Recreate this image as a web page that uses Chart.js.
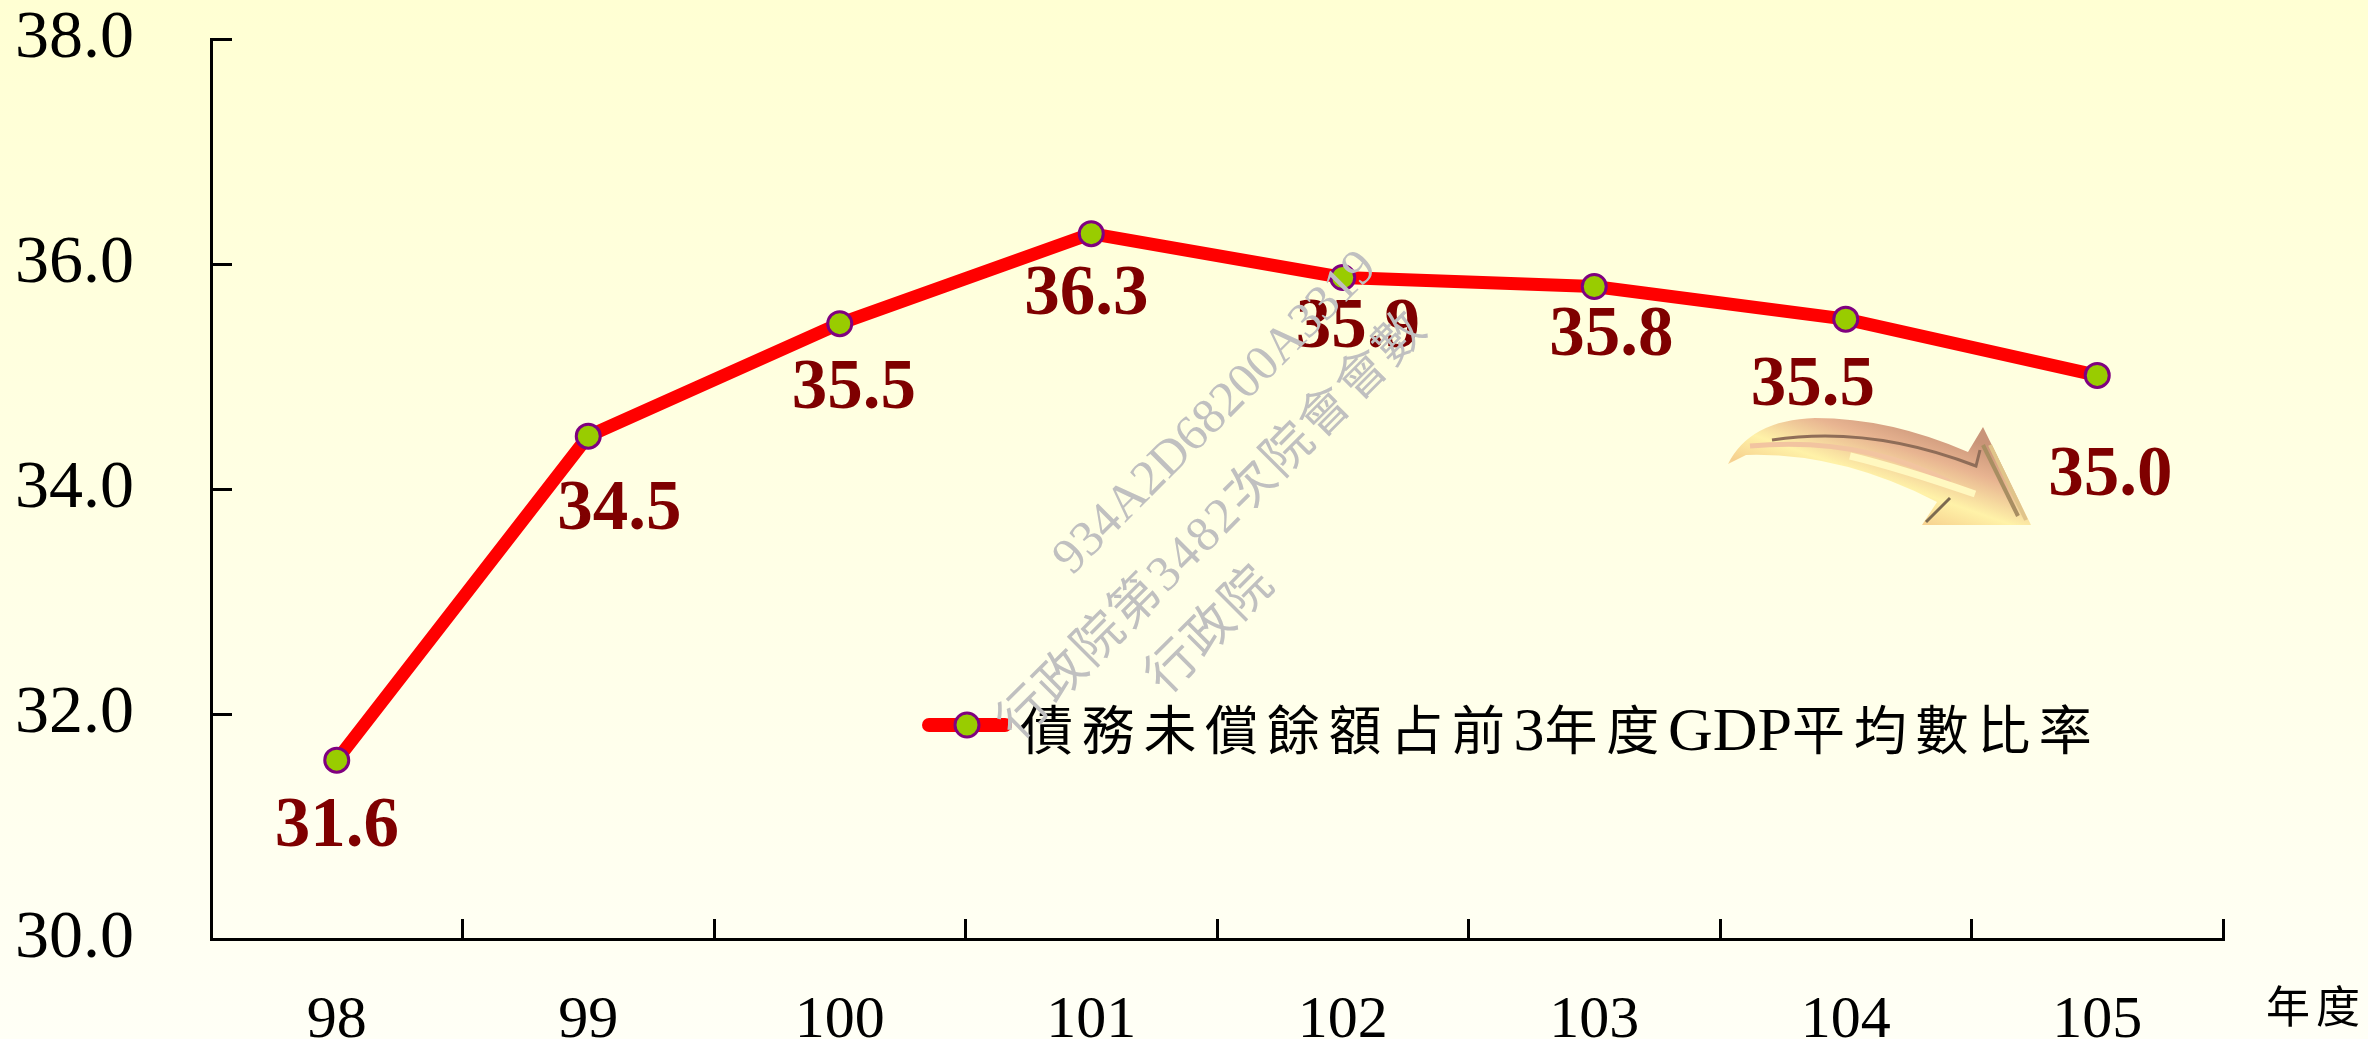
<!DOCTYPE html>
<html lang="zh-Hant">
<head>
<meta charset="utf-8">
<title>債務未償餘額占前3年度GDP平均數比率</title>
<script src="https://cdn.jsdelivr.net/npm/chart.js@4"></script>
<style>
    html, body { margin: 0; padding: 0; }
    body { width: 2368px; height: 1039px; overflow: hidden; background: linear-gradient(#ffffd3, #fffff6); }
    canvas { display: block; }
</style>
</head>
<body>
<canvas id="debtChart" width="2368" height="1039"></canvas>
<script>
const years = ['98', '99', '100', '101', '102', '103', '104', '105'];
const debtRatio = [31.59, 34.47, 35.47, 36.27, 35.88, 35.8, 35.51, 35.01];
const yTicks = [30, 32, 34, 36, 38];
const seriesName = '債務未償餘額占前3年度GDP平均數比率';
const unitLabel = '年度';
const watermark = ['934A2D68200A3319', '行政院第3482次院會會數', '行政院'];

const SERIF = '"Liberation Serif", "Noto Sans CJK TC", serif';
const LABEL_SHIFT = [[0, 68], [31, 75], [14, 66], [-5, 62], [15, 51], [17, 50], [-33, 68], [13, 101]];

// value labels under the points, moved by hand like the original
const valueLabels = {
    id: 'valueLabels',
    afterDatasetsDraw(chart) {
        const ctx = chart.ctx;
        ctx.save();
        ctx.font = 'bold 71px ' + SERIF;
        ctx.fillStyle = '#7f0000';
        ctx.textAlign = 'center';
        ctx.textBaseline = 'middle';
        chart.getDatasetMeta(0).data.forEach((pt, i) => {
            ctx.fillText(debtRatio[i].toFixed(1), pt.x + LABEL_SHIFT[i][0], pt.y + LABEL_SHIFT[i][1]);
        });
        ctx.restore();
    }
};

// legend sits inside the plot, so it is drawn here and not by the stock legend
const insideLegend = {
    id: 'insideLegend',
    afterDatasetsDraw(chart) {
        const ctx = chart.ctx;
        ctx.save();
        ctx.strokeStyle = '#ff0000';
        ctx.lineWidth = 14;
        ctx.lineCap = 'round';
        ctx.beginPath();
        ctx.moveTo(929, 725);
        ctx.lineTo(1005, 725);
        ctx.stroke();
        ctx.beginPath();
        ctx.arc(967, 725, 12, 0, Math.PI * 2);
        ctx.fillStyle = '#99cc00';
        ctx.fill();
        ctx.lineWidth = 3;
        ctx.strokeStyle = '#800080';
        ctx.stroke();

        ctx.fillStyle = '#000';
        ctx.textBaseline = 'alphabetic';
        let x = 1020;
        seriesName.match(/[0-9A-Z]+|[^0-9A-Z]+/g).forEach(run => {
            const latin = /^[0-9A-Z]/.test(run);
            ctx.letterSpacing = latin ? '0px' : '8.7px';
            ctx.font = latin ? '62px ' + SERIF : '53px ' + SERIF;
            ctx.fillText(run, x, 750);
            x += ctx.measureText(run).width;
        });
        ctx.restore();
    }
};

const unitTitle = {
    id: 'unitTitle',
    afterDraw(chart) {
        const ctx = chart.ctx;
        ctx.save();
        ctx.font = '44px ' + SERIF;
        ctx.letterSpacing = '6px';
        ctx.fillStyle = '#000';
        ctx.textBaseline = 'alphabetic';
        ctx.fillText(unitLabel, 2266, 1023);
        ctx.restore();
    }
};

// the bent 3D arrow next to the last point
const trendArrow = {
    id: 'trendArrow',
    afterDatasetsDraw(chart) {
        const ctx = chart.ctx;
        ctx.save();
        const g = ctx.createLinearGradient(1900, 415, 1860, 530);
        g.addColorStop(0, '#c99478');
        g.addColorStop(0.25, '#e8b491');
        g.addColorStop(0.55, '#fff2a8');
        g.addColorStop(0.8, '#f6d08e');
        g.addColorStop(1, '#fbeec8');
        ctx.fillStyle = g;
        ctx.beginPath();
        ctx.moveTo(1728, 464);
        ctx.quadraticCurveTo(1750, 420, 1815, 418);
        ctx.quadraticCurveTo(1890, 418, 1968, 452);
        ctx.lineTo(1983, 427);
        ctx.lineTo(2031, 525);
        ctx.lineTo(1922, 525);
        ctx.lineTo(1937, 502);
        ctx.quadraticCurveTo(1840, 452, 1746, 455);
        ctx.closePath();
        ctx.fill();

        // inner bands
        ctx.strokeStyle = '#f2c4a0';
        ctx.lineWidth = 5;
        ctx.beginPath();
        ctx.moveTo(1750, 446);
        ctx.quadraticCurveTo(1860, 436, 1950, 482);
        ctx.stroke();
        ctx.strokeStyle = '#fff8c0';
        ctx.lineWidth = 7;
        ctx.beginPath();
        ctx.moveTo(1850, 456);
        ctx.quadraticCurveTo(1900, 468, 1975, 494);
        ctx.stroke();

        ctx.strokeStyle = '#8f6d58';
        ctx.lineWidth = 3;
        ctx.beginPath();
        ctx.moveTo(1772, 440);
        ctx.quadraticCurveTo(1870, 425, 1976, 466);
        ctx.lineTo(1980, 450);
        ctx.stroke();
        ctx.strokeStyle = '#a88e62';
        ctx.lineWidth = 4;
        ctx.beginPath();
        ctx.moveTo(1983, 445);
        ctx.lineTo(2018, 516);
        ctx.stroke();
        ctx.strokeStyle = '#e0c48a';
        ctx.beginPath();
        ctx.moveTo(1990, 445);
        ctx.lineTo(2026, 520);
        ctx.stroke();
        ctx.strokeStyle = '#7c6a50';
        ctx.lineWidth = 3;
        ctx.beginPath();
        ctx.moveTo(1926, 522);
        ctx.lineTo(1950, 498);
        ctx.stroke();
        ctx.restore();
    }
};

// grey stamp goes over everything else
const stamp = {
    id: 'stamp',
    afterDraw(chart) {
        const ctx = chart.ctx;
        const starts = [[1072, 576], [1018, 742], [1166, 696]];
        ctx.save();
        ctx.fillStyle = '#c0c0c0';
        ctx.font = '50px ' + SERIF;
        ctx.textBaseline = 'alphabetic';
        watermark.forEach((line, i) => {
            ctx.save();
            ctx.translate(starts[i][0], starts[i][1]);
            ctx.rotate(-Math.PI / 4);
            ctx.letterSpacing = i === 0 ? '0px' : '2.5px';
            ctx.fillText(line, 0, 0);
            ctx.restore();
        });
        ctx.restore();
    }
};

const ctx = document.getElementById('debtChart').getContext('2d');
const debtChart = new Chart(ctx, {
    type: 'line',
    data: {
        labels: years,
        datasets: [{
            label: seriesName,
            data: debtRatio,
            borderColor: '#ff0000',
            borderWidth: 13,
            tension: 0,
            pointRadius: 12,
            pointBackgroundColor: '#99cc00',
            pointBorderColor: '#800080',
            pointBorderWidth: 3
        }]
    },
    options: {
        responsive: false,
        animation: false,
        devicePixelRatio: 1,
        layout: {
            padding: { top: 39, right: 145, bottom: 0, left: 0 }
        },
        scales: {
            x: {
                offset: true,
                grid: {
                    offset: true,
                    drawOnChartArea: false,
                    color: '#000',
                    lineWidth: 3,
                    tickLength: -20
                },
                border: { color: '#000', width: 3 },
                ticks: {
                    color: '#000',
                    padding: 66,
                    maxRotation: 0,
                    font: { family: SERIF, size: 60 }
                },
                afterFit(scale) {
                    scale.height = 100;
                    scale.paddingLeft = 0;
                    scale.paddingRight = 0;
                }
            },
            y: {
                min: 30,
                max: 38,
                afterBuildTicks(scale) {
                    scale.ticks = yTicks.map(v => ({ value: v }));
                },
                grid: {
                    drawOnChartArea: false,
                    color: '#000',
                    lineWidth: 3,
                    tickLength: -21
                },
                border: { color: '#000', width: 3 },
                ticks: {
                    color: '#000',
                    padding: 98,
                    font: { family: SERIF, size: 68 },
                    callback: v => v.toFixed(1)
                },
                afterFit(scale) {
                    scale.width = 211;
                    scale.paddingTop = 0;
                    scale.paddingBottom = 0;
                }
            }
        },
        plugins: {
            legend: { display: false },
            tooltip: { enabled: false }
        }
    },
    plugins: [trendArrow, valueLabels, insideLegend, unitTitle, stamp]
});
</script>
</body>
</html>
